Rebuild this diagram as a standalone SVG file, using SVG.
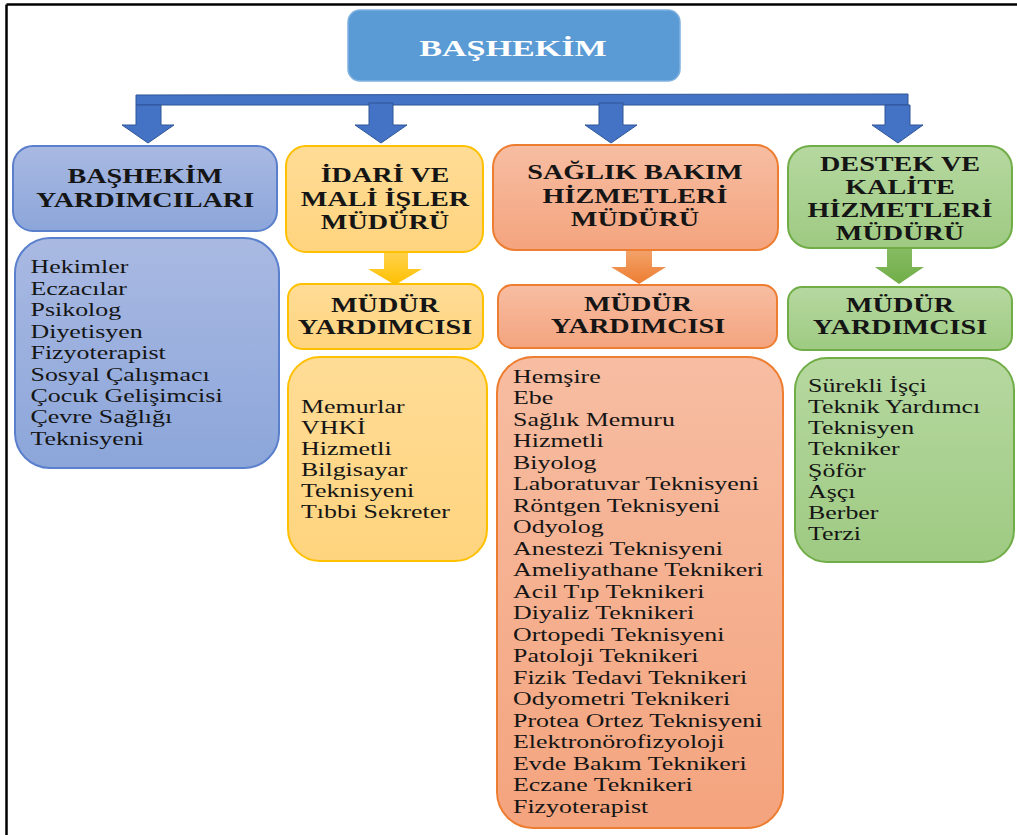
<svg xmlns="http://www.w3.org/2000/svg" width="1017" height="835" viewBox="0 0 1017 835">
<defs>
<style>
.h{font-family:"Liberation Serif","Times New Roman",serif;font-weight:bold;font-size:20px;fill:#151515;text-anchor:middle}
.l{font-family:"Liberation Serif","Times New Roman",serif;font-size:18px;fill:#151515}
.t{font-family:"Liberation Serif","Times New Roman",serif;font-weight:bold;font-size:24px;fill:#ffffff;text-anchor:middle}
.blue{fill:url(#gBlue);stroke:#5A7FCC;stroke-width:2}
.yel{fill:url(#gYel);stroke:#FFC000;stroke-width:2}
.org{fill:url(#gOrg);stroke:#ED7D31;stroke-width:2}
.grn{fill:url(#gGrn);stroke:#70AD47;stroke-width:2}
.barc{fill:#4472C4;stroke:#2F5597;stroke-width:1}
</style>
<linearGradient id="gBlue" x1="0" y1="0" x2="0" y2="1"><stop offset="0" stop-color="#A9B9E2"/><stop offset="1" stop-color="#8CA6DA"/></linearGradient>
<linearGradient id="gYel" x1="0" y1="0" x2="0" y2="1"><stop offset="0" stop-color="#FFDC96"/><stop offset="1" stop-color="#FFD47E"/></linearGradient>
<linearGradient id="gOrg" x1="0" y1="0" x2="0" y2="1"><stop offset="0" stop-color="#F7BDA2"/><stop offset="1" stop-color="#F4A47E"/></linearGradient>
<linearGradient id="gGrn" x1="0" y1="0" x2="0" y2="1"><stop offset="0" stop-color="#B6D8A0"/><stop offset="1" stop-color="#9ECA82"/></linearGradient>
<linearGradient id="aYel" x1="0" y1="0" x2="0" y2="1"><stop offset="0" stop-color="#FFD24D"/><stop offset="1" stop-color="#FFC000"/></linearGradient>
<linearGradient id="aOrg" x1="0" y1="0" x2="0" y2="1"><stop offset="0" stop-color="#F3A36B"/><stop offset="1" stop-color="#ED7D31"/></linearGradient>
<linearGradient id="aGrn" x1="0" y1="0" x2="0" y2="1"><stop offset="0" stop-color="#86BC63"/><stop offset="1" stop-color="#70AD47"/></linearGradient>
</defs>
<rect width="1017" height="835" fill="#ffffff"/>
<g id="frame" fill="none" stroke="#000" stroke-width="2.5">
<line x1="6.5" y1="4.5" x2="1017" y2="4.5"/>
<line x1="6.5" y1="4.5" x2="6.5" y2="835"/>
</g>

<g id="connectors">
<polygon class="barc" points="136,95 908,94 908,105 136,105"/>
<polygon class="barc" points="136,105 161,105 161,125 174,125 148,143 122,125 136,125"/>
<polygon class="barc" points="369,103 393,103 393,125 407,125 381,143 355,125 369,125"/>
<polygon class="barc" points="599,103 623,103 623,125 637,125 611,143 585,125 599,125"/>
<polygon class="barc" points="885,105 910,105 910,125 923,125 898,143 872,125 885,125"/>
<polygon fill="url(#aYel)" points="384,252 408,252 408,269 422,269 395,285 368,269 384,269"/>
<polygon fill="url(#aOrg)" points="626,250 652,250 652,267 666,267 639,284 611,267 626,267"/>
<polygon fill="url(#aGrn)" points="887,248 912,248 912,267 924,267 899,284 875,267 887,267"/>
</g>

<g id="bashekim">
<rect x="348" y="10" width="332" height="71" rx="12" fill="#5B9BD5" stroke="#7FB1E0" stroke-width="1.5"/>
<text class="t" transform="translate(513,0) scale(1.42,1)" x="0" y="56">BAŞHEKİM</text>
</g>

<g id="bashekim-yardimcilari">
<rect class="blue" x="13" y="146" width="264" height="85" rx="20"/>
<text class="h" transform="translate(145,0) scale(1.41,1)"><tspan x="0" y="183.5">BAŞHEKİM</tspan><tspan x="0" y="207.5">YARDIMCILARI</tspan></text>
</g>
<g id="bashekim-yardimcilari-list">
<rect class="blue" x="15" y="238" width="264" height="230" rx="35"/>
<text class="l" transform="translate(30.5,0) scale(1.44,1)">
<tspan x="0" y="273.3">Hekimler</tspan>
<tspan x="0" y="294.8">Eczacılar</tspan>
<tspan x="0" y="316.2">Psikolog</tspan>
<tspan x="0" y="337.7">Diyetisyen</tspan>
<tspan x="0" y="359.1">Fizyoterapist</tspan>
<tspan x="0" y="380.6">Sosyal Çalışmacı</tspan>
<tspan x="0" y="402.1">Çocuk Gelişimcisi</tspan>
<tspan x="0" y="423.5">Çevre Sağlığı</tspan>
<tspan x="0" y="445">Teknisyeni</tspan>
</text>
</g>

<g id="idari-mali">
<rect class="yel" x="286" y="146" width="197" height="106" rx="20"/>
<text class="h" transform="translate(385,0) scale(1.41,1)"><tspan x="0" y="182.5">İDARİ VE</tspan><tspan x="0" y="206">MALİ İŞLER</tspan><tspan x="0" y="229.5">MÜDÜRÜ</tspan></text>
</g>
<g id="idari-mudur-yardimcisi">
<rect class="yel" x="288" y="284" width="195" height="65" rx="14"/>
<text class="h" transform="translate(385,0) scale(1.41,1)"><tspan x="0" y="312">MÜDÜR</tspan><tspan x="0" y="334.5">YARDIMCISI</tspan></text>
</g>
<g id="idari-list">
<rect class="yel" x="288" y="357" width="199" height="204" rx="32"/>
<text class="l" transform="translate(301,0) scale(1.44,1)">
<tspan x="0" y="413">Memurlar</tspan>
<tspan x="0" y="434">VHKİ</tspan>
<tspan x="0" y="455">Hizmetli</tspan>
<tspan x="0" y="476">Bilgisayar</tspan>
<tspan x="0" y="497">Teknisyeni</tspan>
<tspan x="0" y="518">Tıbbi Sekreter</tspan>
</text>
</g>

<g id="saglik-bakim">
<rect class="org" x="493" y="145" width="285" height="105" rx="22"/>
<text class="h" transform="translate(635,0) scale(1.41,1)"><tspan x="0" y="179.5">SAĞLIK BAKIM</tspan><tspan x="0" y="203">HİZMETLERİ</tspan><tspan x="0" y="226.5">MÜDÜRÜ</tspan></text>
</g>
<g id="saglik-mudur-yardimcisi">
<rect class="org" x="498" y="285" width="279" height="63" rx="14"/>
<text class="h" transform="translate(638,0) scale(1.41,1)"><tspan x="0" y="311">MÜDÜR</tspan><tspan x="0" y="333.5">YARDIMCISI</tspan></text>
</g>
<g id="saglik-list">
<rect class="org" x="497" y="357" width="286" height="471" rx="36"/>
<text class="l" transform="translate(513,0) scale(1.44,1)">
<tspan x="0" y="383">Hemşire</tspan>
<tspan x="0" y="404.5">Ebe</tspan>
<tspan x="0" y="426">Sağlık Memuru</tspan>
<tspan x="0" y="447.5">Hizmetli</tspan>
<tspan x="0" y="469">Biyolog</tspan>
<tspan x="0" y="490.5">Laboratuvar Teknisyeni</tspan>
<tspan x="0" y="512">Röntgen Teknisyeni</tspan>
<tspan x="0" y="533.5">Odyolog</tspan>
<tspan x="0" y="555">Anestezi Teknisyeni</tspan>
<tspan x="0" y="576.5">Ameliyathane Teknikeri</tspan>
<tspan x="0" y="598">Acil Tıp Teknikeri</tspan>
<tspan x="0" y="619.5">Diyaliz Teknikeri</tspan>
<tspan x="0" y="641">Ortopedi Teknisyeni</tspan>
<tspan x="0" y="662.5">Patoloji Teknikeri</tspan>
<tspan x="0" y="684">Fizik Tedavi Teknikeri</tspan>
<tspan x="0" y="705.5">Odyometri Teknikeri</tspan>
<tspan x="0" y="727">Protea Ortez Teknisyeni</tspan>
<tspan x="0" y="748.5">Elektronörofizyoloji</tspan>
<tspan x="0" y="770">Evde Bakım Teknikeri</tspan>
<tspan x="0" y="791.5">Eczane Teknikeri</tspan>
<tspan x="0" y="813">Fizyoterapist</tspan>
</text>
</g>

<g id="destek-kalite">
<rect class="grn" x="788" y="146" width="224" height="102" rx="22"/>
<text class="h" transform="translate(900,0) scale(1.41,1)"><tspan x="0" y="171.5">DESTEK VE</tspan><tspan x="0" y="194.5">KALİTE</tspan><tspan x="0" y="217.5">HİZMETLERİ</tspan><tspan x="0" y="240">MÜDÜRÜ</tspan></text>
</g>
<g id="destek-mudur-yardimcisi">
<rect class="grn" x="788" y="287" width="224" height="63" rx="14"/>
<text class="h" transform="translate(900,0) scale(1.41,1)"><tspan x="0" y="312">MÜDÜR</tspan><tspan x="0" y="334.5">YARDIMCISI</tspan></text>
</g>
<g id="destek-list">
<rect class="grn" x="795" y="358" width="219" height="204" rx="32"/>
<text class="l" transform="translate(808,0) scale(1.44,1)">
<tspan x="0" y="392">Sürekli İşçi</tspan>
<tspan x="0" y="413.2">Teknik Yardımcı</tspan>
<tspan x="0" y="434.3">Teknisyen</tspan>
<tspan x="0" y="455.5">Tekniker</tspan>
<tspan x="0" y="476.6">Şöför</tspan>
<tspan x="0" y="497.8">Aşçı</tspan>
<tspan x="0" y="518.9">Berber</tspan>
<tspan x="0" y="540">Terzi</tspan>
</text>
</g>
</svg>
